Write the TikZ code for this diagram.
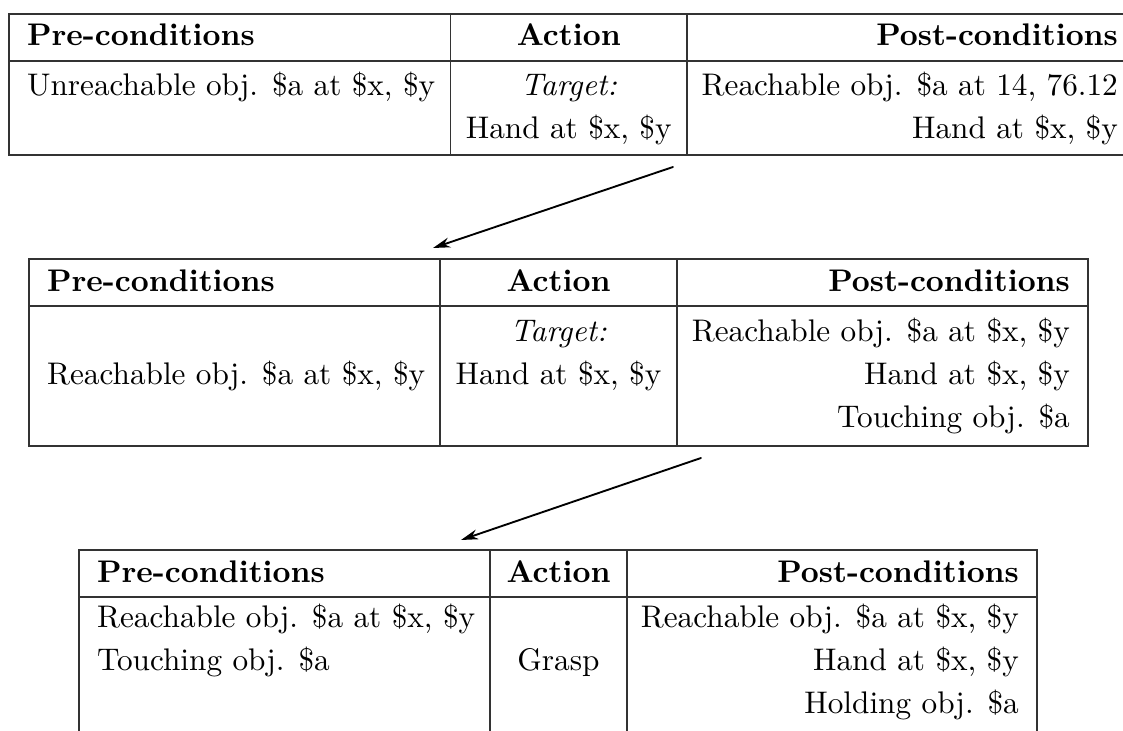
\documentclass[tikz,border=0pt]{standalone}
\usetikzlibrary{arrows.meta}
\begin{document}
\begin{tikzpicture}[x=0.32pt,y=-0.32pt,
  tline/.style={draw=black!80,line width=0.42pt},
  ltxt/.style={anchor=base west,inner sep=0pt},
  rtxt/.style={anchor=base east,inner sep=0pt},
  ctxt/.style={anchor=base,inner sep=0pt},
  flow/.style={-{Stealth[length=5.5pt,width=3.2pt]},line width=0.6pt,line cap=round}]
\useasboundingbox (0,0) rectangle (1123,731);

% ---------- Table 1 ----------
\draw[tline] (1123,14) -- (9,14) -- (9,155) -- (1123,155);
\draw[tline] (9,61) -- (1123,61);
\draw[tline] (450.5,14) -- (450.5,155);
\draw[tline] (687,14) -- (687,155);
\node[ltxt] (t1pre) at (26.5,46) {\textbf{Pre-conditions}};
\node[ctxt] (t1act) at (568.75,46) {\textbf{Action}};
\node[rtxt] (t1post) at (1118.5,46) {\textbf{Post-conditions}};
\node[ltxt] (t1p1) at (26.5,96) {Unreachable obj. \$a at \$x, \$y};
\node[ctxt] (t1a1) at (568.75,96) {\textit{Target:}};
\node[ctxt] (t1a2) at (568.75,139) {Hand at \$x, \$y};
\node[rtxt] (t1q1) at (1118.5,96) {Reachable obj. \$a at 14, 76.12};
\node[rtxt] (t1q2) at (1118.5,139) {Hand at \$x, \$y};

% ---------- Table 2 ----------
\draw[tline] (29,259) rectangle (1088,446);
\draw[tline] (29,306) -- (1088,306);
\draw[tline] (440,259) -- (440,446);
\draw[tline] (677,259) -- (677,446);
\node[ltxt] (t2pre) at (46.5,292) {\textbf{Pre-conditions}};
\node[ctxt] (t2act) at (558.5,292) {\textbf{Action}};
\node[rtxt] (t2post) at (1070.5,292) {\textbf{Post-conditions}};
\node[ltxt] (t2p1) at (46.5,385) {Reachable obj. \$a at \$x, \$y};
\node[ctxt] (t2a1) at (558.5,342) {\textit{Target:}};
\node[ctxt] (t2a2) at (558.5,385) {Hand at \$x, \$y};
\node[rtxt] (t2q1) at (1070.5,342) {Reachable obj. \$a at \$x, \$y};
\node[rtxt] (t2q2) at (1070.5,385) {Hand at \$x, \$y};
\node[rtxt] (t2q3) at (1070.5,428) {Touching obj. \$a};

% ---------- Table 3 ----------
\draw[tline] (79,731) -- (79,550) -- (1037,550) -- (1037,731);
\draw[tline] (79,597) -- (1037,597);
\draw[tline] (490,550) -- (490,731);
\draw[tline] (627,550) -- (627,731);
\node[ltxt] (t3pre) at (96.5,583) {\textbf{Pre-conditions}};
\node[ctxt] (t3act) at (558.5,583) {\textbf{Action}};
\node[rtxt] (t3post) at (1019.5,583) {\textbf{Post-conditions}};
\node[ltxt] (t3p1) at (96.5,628) {Reachable obj. \$a at \$x, \$y};
\node[ltxt] (t3p2) at (96.5,671) {Touching obj. \$a};
\node[ctxt] (t3a1) at (558.5,671) {Grasp};
\node[rtxt] (t3q1) at (1019.5,628) {Reachable obj. \$a at \$x, \$y};
\node[rtxt] (t3q2) at (1019.5,671) {Hand at \$x, \$y};
\node[rtxt] (t3q3) at (1019.5,714) {Holding obj. \$a};

% ---------- Arrows ----------
\coordinate (a1s) at (673,167);
\coordinate (a1e) at (433,248);
\coordinate (a2s) at (701,458);
\coordinate (a2e) at (461,540);
\draw[flow] (a1s) -- (a1e);
\draw[flow] (a2s) -- (a2e);
\end{tikzpicture}
\end{document}
